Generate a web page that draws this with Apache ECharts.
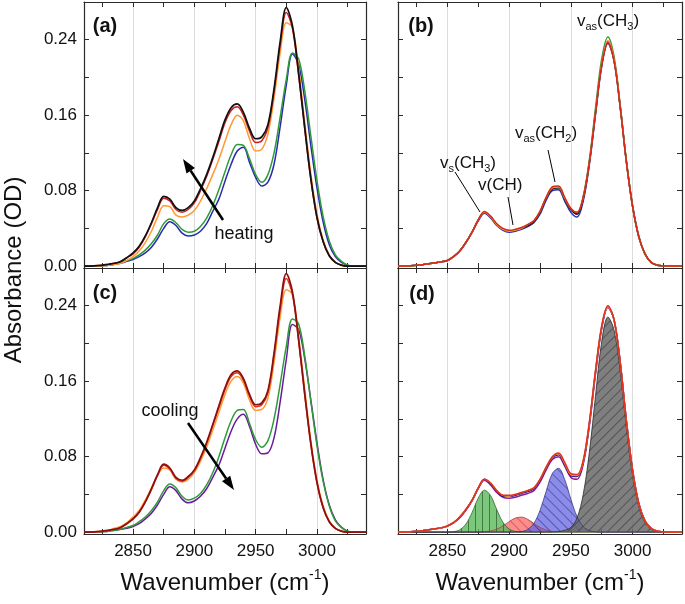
<!DOCTYPE html>
<html>
<head>
<meta charset="utf-8">
<title>CH stretching spectra</title>
<script src="https://cdn.jsdelivr.net/npm/echarts@6/dist/echarts.min.js"></script>
<style>html,body{margin:0;padding:0;background:#fff;}</style>
</head>
<body>
<div id="main" style="width:685px;height:604px;"></div>
<script>
// wavenumber grid (cm-1)
var wn = [2810,2815,2820,2825,2830,2835,2840,2845,2850,2855,2860,2865,2870,2875,2880,2885,2890,2895,2900,2905,2910,2915,2920,2925,2930,2935,2940,2945,2950,2955,2960,2965,2970,2975,2980,2985,2990,2995,3000,3005,3010,3015,3020,3025,3030,3035,3040];

// (a) heating
var aBlack  = [0,0,0.0005,0.001,0.002,0.003,0.005,0.009,0.014,0.021,0.032,0.046,0.062,0.074,0.071,0.062,0.059,0.062,0.069,0.082,0.097,0.115,0.135,0.155,0.168,0.172,0.163,0.146,0.135,0.137,0.150,0.188,0.238,0.274,0.255,0.205,0.147,0.093,0.052,0.026,0.011,0.004,0.001,0,0,0,0];
var aRed    = [0,0,0.0005,0.001,0.002,0.003,0.005,0.009,0.013,0.020,0.031,0.045,0.060,0.072,0.069,0.060,0.057,0.060,0.067,0.080,0.095,0.113,0.132,0.152,0.165,0.169,0.160,0.143,0.131,0.133,0.147,0.185,0.234,0.269,0.252,0.203,0.146,0.092,0.051,0.026,0.011,0.004,0.001,0,0,0,0];
var aOrange = [0,0,0,0.0005,0.001,0.002,0.003,0.006,0.010,0.016,0.025,0.037,0.052,0.064,0.063,0.054,0.052,0.054,0.059,0.069,0.082,0.097,0.113,0.132,0.150,0.160,0.154,0.135,0.122,0.124,0.140,0.178,0.226,0.258,0.253,0.210,0.153,0.098,0.055,0.028,0.012,0.004,0.001,0,0,0,0];
var aGreen  = [0,0,0,0.0005,0.001,0.002,0.004,0.006,0.008,0.012,0.017,0.024,0.033,0.045,0.050,0.046,0.039,0.036,0.037,0.042,0.051,0.064,0.081,0.100,0.118,0.129,0.128,0.114,0.097,0.089,0.097,0.120,0.158,0.198,0.226,0.220,0.186,0.138,0.091,0.053,0.027,0.012,0.005,0.001,0,0,0];
var aBlue   = [0,0,0,0.0005,0.001,0.002,0.003,0.005,0.007,0.010,0.014,0.020,0.029,0.040,0.047,0.043,0.035,0.032,0.033,0.037,0.045,0.058,0.071,0.090,0.108,0.122,0.126,0.110,0.094,0.085,0.089,0.108,0.148,0.192,0.225,0.214,0.177,0.128,0.083,0.047,0.023,0.010,0.004,0.001,0,0,0];

// (b) overlapping spectra
var bBlack  = [0,0,0.0003,0.0008,0.0015,0.0025,0.0035,0.0045,0.006,0.010,0.016,0.025,0.036,0.049,0.057,0.052,0.044,0.039,0.037,0.038,0.040,0.043,0.047,0.057,0.072,0.082,0.083,0.071,0.060,0.055,0.072,0.110,0.163,0.214,0.238,0.218,0.168,0.110,0.063,0.031,0.013,0.004,0.001,0.0003,0,0,0];
var bBlue   = [0,0,0.0003,0.0008,0.0015,0.0025,0.0035,0.0045,0.006,0.010,0.016,0.025,0.036,0.048,0.056,0.051,0.043,0.038,0.036,0.037,0.039,0.042,0.046,0.055,0.070,0.080,0.081,0.069,0.057,0.052,0.069,0.108,0.161,0.212,0.236,0.218,0.169,0.111,0.064,0.032,0.013,0.004,0.001,0.0003,0,0,0];
var bGreen  = [0,0,0.0003,0.0008,0.0015,0.0025,0.0035,0.0045,0.006,0.010,0.016,0.025,0.036,0.049,0.057,0.052,0.044,0.039,0.037,0.038,0.040,0.043,0.047,0.057,0.072,0.082,0.083,0.071,0.060,0.056,0.074,0.113,0.168,0.220,0.243,0.222,0.170,0.111,0.063,0.031,0.013,0.004,0.001,0.0003,0,0,0];
var bOrange = [0,0,0.0003,0.0008,0.0015,0.0025,0.0035,0.0045,0.006,0.010,0.016,0.025,0.036,0.049,0.057,0.052,0.044,0.039,0.037,0.038,0.040,0.044,0.048,0.058,0.073,0.083,0.084,0.072,0.061,0.057,0.073,0.111,0.164,0.215,0.239,0.219,0.169,0.110,0.063,0.031,0.013,0.004,0.001,0.0003,0,0,0];
var bRed    = [0,0,0.0003,0.0008,0.0015,0.0025,0.0035,0.0045,0.006,0.010,0.016,0.025,0.036,0.049,0.058,0.053,0.045,0.040,0.038,0.039,0.041,0.044,0.048,0.058,0.073,0.084,0.085,0.073,0.061,0.057,0.073,0.110,0.163,0.213,0.237,0.217,0.168,0.110,0.063,0.031,0.013,0.004,0.001,0.0003,0,0,0];

// (c) cooling
var cMaroon = [0,0,0.0005,0.001,0.002,0.003,0.005,0.009,0.014,0.021,0.032,0.046,0.061,0.072,0.068,0.058,0.055,0.059,0.066,0.079,0.095,0.114,0.134,0.153,0.167,0.171,0.163,0.146,0.135,0.137,0.150,0.190,0.240,0.274,0.255,0.205,0.147,0.094,0.053,0.026,0.011,0.004,0.001,0,0,0,0];
var cRed    = [0,0,0.0005,0.001,0.002,0.003,0.005,0.009,0.014,0.021,0.032,0.045,0.060,0.071,0.067,0.057,0.054,0.058,0.065,0.078,0.094,0.113,0.132,0.151,0.165,0.169,0.161,0.144,0.133,0.135,0.148,0.187,0.236,0.269,0.252,0.203,0.146,0.093,0.052,0.026,0.011,0.004,0.001,0,0,0,0];
var cOrange = [0,0,0.0005,0.001,0.002,0.004,0.006,0.010,0.016,0.023,0.034,0.047,0.060,0.068,0.066,0.056,0.053,0.056,0.063,0.075,0.090,0.108,0.127,0.146,0.160,0.165,0.158,0.140,0.129,0.130,0.142,0.180,0.228,0.257,0.252,0.208,0.152,0.097,0.055,0.028,0.012,0.004,0.001,0,0,0,0];
var cGreen  = [0,0,0,0.0005,0.001,0.002,0.003,0.005,0.007,0.011,0.016,0.023,0.032,0.044,0.051,0.047,0.038,0.034,0.036,0.041,0.050,0.063,0.080,0.100,0.118,0.129,0.130,0.115,0.098,0.090,0.097,0.120,0.157,0.197,0.226,0.221,0.187,0.139,0.092,0.054,0.028,0.012,0.005,0.001,0,0,0];
var cPurple = [0,0,0,0.0005,0.001,0.002,0.003,0.004,0.006,0.009,0.014,0.020,0.029,0.040,0.048,0.044,0.035,0.031,0.033,0.038,0.046,0.058,0.071,0.089,0.107,0.120,0.125,0.112,0.093,0.083,0.084,0.100,0.138,0.183,0.220,0.215,0.184,0.140,0.095,0.056,0.029,0.013,0.005,0.001,0,0,0];

// (d) spectra and fitted bands
var dRed    = [0,0,0.0003,0.0008,0.0015,0.0025,0.0035,0.0045,0.0065,0.010,0.016,0.024,0.034,0.047,0.056,0.052,0.044,0.039,0.039,0.040,0.042,0.044,0.047,0.056,0.069,0.080,0.084,0.074,0.062,0.061,0.076,0.117,0.172,0.219,0.240,0.225,0.179,0.117,0.065,0.030,0.012,0.004,0.001,0.0003,0,0,0];
var dOrange = [0,0,0.0003,0.0008,0.0015,0.0025,0.0035,0.0045,0.0065,0.010,0.016,0.024,0.034,0.047,0.056,0.052,0.044,0.039,0.038,0.040,0.042,0.044,0.047,0.056,0.069,0.080,0.083,0.073,0.061,0.060,0.075,0.116,0.171,0.218,0.239,0.225,0.179,0.117,0.065,0.030,0.012,0.004,0.001,0.0003,0,0,0];
var dNavy   = [0,0,0.0003,0.0008,0.0015,0.0025,0.0035,0.0045,0.0065,0.010,0.016,0.024,0.034,0.047,0.056,0.051,0.043,0.038,0.038,0.039,0.041,0.043,0.046,0.055,0.068,0.079,0.082,0.072,0.060,0.059,0.074,0.115,0.170,0.217,0.239,0.225,0.179,0.117,0.065,0.030,0.012,0.004,0.001,0.0003,0,0,0];
var dPurple = [0,0,0.0003,0.0008,0.0015,0.0025,0.0035,0.0045,0.0063,0.010,0.015,0.023,0.033,0.046,0.055,0.050,0.042,0.037,0.036,0.037,0.039,0.041,0.044,0.053,0.066,0.077,0.080,0.070,0.058,0.056,0.072,0.113,0.168,0.216,0.238,0.225,0.180,0.118,0.066,0.031,0.012,0.004,0.001,0.0003,0,0,0];
var fitGreen = [0,0,0,0,0,0,0,0,0.0001,0.0005,0.0024,0.0085,0.0208,0.0361,0.0445,0.0387,0.0238,0.0104,0.0032,0.0007,0.0001,0,0,0,0,0,0,0,0,0,0,0,0,0,0,0,0,0,0,0,0,0,0,0,0,0,0];
var fitRed   = [0,0,0,0,0,0,0,0,0,0,0,0,0,0,0.0004,0.0012,0.0031,0.0066,0.0111,0.0149,0.0159,0.0136,0.0092,0.005,0.0022,0.0007,0.0002,0,0,0,0,0,0,0,0,0,0,0,0,0,0,0,0,0,0,0,0];
var fitBlue  = [0,0,0,0,0,0,0,0,0,0,0,0,0,0,0,0,0,0,0,0.0001,0.0006,0.0028,0.0092,0.023,0.0434,0.0622,0.0676,0.0557,0.0348,0.0165,0.0059,0.0016,0.0003,0,0,0,0,0,0,0,0,0,0,0,0,0,0];
var fitGrey  = [0,0,0,0,0,0,0,0,0,0,0,0,0,0,0,0,0,0,0,0,0,0,0,0,0,0,0.0005,0.0019,0.005,0.015,0.040,0.085,0.145,0.202,0.228,0.214,0.170,0.110,0.060,0.027,0.010,0.003,0.001,0,0,0,0];

// axis ticks / labels
var xTicks = [2825,2850,2875,2900,2925,2950,2975,3000,3025];
var xLabels = [2850,2900,2950,3000];
var yTicks = [0,0.04,0.08,0.12,0.16,0.20,0.24];
var yLabels = [0,0.08,0.16,0.24];

var FONT = 'Liberation Sans, Arial, sans-serif';
var AX = '#2a2a2a';

var grids = [
  {left:84, top:2, width:282, height:266, outerBoundsMode:'none'},
  {left:398, top:2, width:284, height:266, outerBoundsMode:'none'},
  {left:84, top:268, width:282, height:266, outerBoundsMode:'none'},
  {left:398, top:268, width:284, height:266, outerBoundsMode:'none'}
];

var xAxes = [], yAxes = [];
grids.forEach(function (g, i) {
  var frame = {show:true, onZero:false, lineStyle:{color:AX, width:1.2}};
  var tick = {show:true, inside:true, length:5, customValues:xTicks, lineStyle:{color:AX}};
  xAxes.push({type:'value', gridIndex:i, position:'bottom', min:2810, max:3040,
    axisLine:frame, axisTick:tick,
    axisLabel:{show:i >= 2, customValues:xLabels, fontSize:17, color:'#111', fontFamily:FONT, margin:9,
      formatter:function (v) { return String(v); }},
    splitLine:{show:false}});
  xAxes.push({type:'value', gridIndex:i, position:'top', min:2810, max:3040,
    axisLine:frame, axisTick:tick, axisLabel:{show:false}, splitLine:{show:false}});
  xAxes.push({type:'value', gridIndex:i, position:'bottom', min:2810, max:3040,
    axisLine:{show:false}, axisTick:{show:false, customValues:xLabels}, axisLabel:{show:false},
    splitLine:{show:true, lineStyle:{color:'#dcdcdc', width:1}}, z:0});
  var ytick = {show:true, inside:true, length:5, customValues:yTicks, lineStyle:{color:AX}};
  yAxes.push({type:'value', gridIndex:i, position:'left', min:-0.002, max:0.28,
    axisLine:frame, axisTick:ytick,
    axisLabel:{show:i % 2 === 0, customValues:yLabels, fontSize:17, color:'#111', fontFamily:FONT, margin:7,
      formatter:function (v) { return v.toFixed(2); }},
    splitLine:{show:false}});
  yAxes.push({type:'value', gridIndex:i, position:'right', min:-0.002, max:0.28,
    axisLine:frame, axisTick:ytick, axisLabel:{show:false}, splitLine:{show:false}});
});

function pts(arr) { return wn.map(function (w, k) { return [w, arr[k]]; }); }
function curve(p, arr, color, width) {
  return {type:'line', xAxisIndex:p * 3, yAxisIndex:p * 2, data:pts(arr), symbol:'none', showSymbol:false,
    smooth:0.35, silent:true, z:3, lineStyle:{color:color, width:width || 1.5}};
}
function band(p, arr, fill, edge, decal) {
  return {type:'line', xAxisIndex:p * 3, yAxisIndex:p * 2, data:pts(arr), symbol:'none', showSymbol:false,
    smooth:0.35, silent:true, z:2, lineStyle:{color:edge, width:0.8, decal:decal},
    itemStyle:{color:fill, decal:decal}, areaStyle:{color:fill, opacity:1}};
}
function hatch(rot, col) {
  return {symbol:'rect', symbolSize:1, dashArrayX:[1, 0], dashArrayY:[1, 6], rotation:rot, color:col};
}

var series = [
  curve(0, aBlue, '#2a2ab0'), curve(0, aGreen, '#2f9a3a'), curve(0, aOrange, '#ff9933'),
  curve(0, aRed, '#cc1f1f'), curve(0, aBlack, '#111111', 1.7),
  curve(1, bBlue, '#2a2ab0'), curve(1, bGreen, '#2f9a3a'), curve(1, bBlack, '#111111'),
  curve(1, bOrange, '#ff9933'), curve(1, bRed, '#d6281e'),
  curve(2, cPurple, '#6a1b9a'), curve(2, cGreen, '#2f9a3a'), curve(2, cOrange, '#ff9933'),
  curve(2, cRed, '#e0301e'), curve(2, cMaroon, '#8b1010', 1.7),
  band(3, fitRed, 'rgba(255,100,100,0.75)', '#a04040', hatch(Math.PI / 4, 'rgba(90,30,30,0.35)')),
  band(3, fitGreen, 'rgba(90,185,90,0.8)', '#356b35', hatch(Math.PI / 2, 'rgba(20,60,20,0.55)')),
  band(3, fitBlue, 'rgba(100,100,225,0.75)', '#3a3a80', hatch(Math.PI / 4, 'rgba(30,30,90,0.45)')),
  band(3, fitGrey, 'rgba(105,105,105,0.85)', '#2a2a2a', hatch(-Math.PI / 4, 'rgba(40,40,40,0.5)')),
  curve(3, dPurple, '#8e1aa0'), curve(3, dNavy, '#1a1a8c'), curve(3, dOrange, '#ff9933'), curve(3, dRed, '#e0301e')
];

// annotations
var rt = {n:{fontSize:17, lineHeight:22, fontFamily:FONT, fill:'#111'},
          s:{fontSize:11, lineHeight:8, verticalAlign:'bottom', fontFamily:FONT, fill:'#111'}};
function note(x, y, text) {
  return {type:'text', x:x, y:y, z:10, style:{text:text, rich:rt, fontFamily:FONT, fill:'#111', verticalAlign:'top'}};
}
function label(x, y, text, size, bold) {
  return {type:'text', x:x, y:y, z:10, style:{text:text, fontSize:size, fontWeight:bold ? 'bold' : 'normal',
    fontFamily:FONT, fill:'#111', align:'center', verticalAlign:'middle'}};
}
function seg(x1, y1, x2, y2, w) {
  return {type:'line', z:10, shape:{x1:x1, y1:y1, x2:x2, y2:y2}, style:{stroke:'#000', lineWidth:w}};
}
function head(pts) {
  return {type:'polygon', z:10, shape:{points:pts}, style:{fill:'#000'}};
}
var xt = {n:{fontSize:24, lineHeight:30, fontFamily:FONT, fill:'#111'},
          u:{fontSize:14, lineHeight:10, verticalAlign:'top', fontFamily:FONT, fill:'#111'}};

var graphics = [
  label(105, 26, '(a)', 20, true), label(421, 26, '(b)', 20, true),
  label(105, 293, '(c)', 20, true), label(422, 294, '(d)', 20, true),
  label(244, 234, 'heating', 18), label(170, 411, 'cooling', 18),
  seg(223, 220, 190.7, 170.7, 2.5), head([[183, 159], [194.9, 168.0], [186.5, 173.4]]),
  seg(188, 423, 226.1, 478.5, 2.5), head([[234, 490], [230.2, 475.7], [222.0, 481.3]]),
  note(577, 10, '{n|v}{s|as}{n|(CH}{s|3}{n|)}'),
  note(515, 122, '{n|v}{s|as}{n|(CH}{s|2}{n|)}'),
  note(440, 152, '{n|v}{s|s}{n|(CH}{s|3}{n|)}'),
  note(478, 174, '{n|v(CH)}'),
  seg(548, 150, 555, 182, 1), seg(455, 172, 480, 212, 1), seg(508, 197, 513, 225, 1),
  {type:'text', x:14, y:270, rotation:Math.PI / 2, z:10,
    style:{text:'Absorbance (OD)', fontSize:24, fontFamily:FONT, fill:'#111', align:'center', verticalAlign:'middle'}},
  {type:'text', x:225, y:583, z:10, style:{text:'{n|Wavenumber (cm}{u|-1}{n|)}', rich:xt, align:'center', verticalAlign:'middle'}},
  {type:'text', x:540, y:583, z:10, style:{text:'{n|Wavenumber (cm}{u|-1}{n|)}', rich:xt, align:'center', verticalAlign:'middle'}}
];

var chart = echarts.init(document.getElementById('main'), null, {renderer:'canvas'});
chart.setOption({
  animation:false,
  backgroundColor:'#fff',
  grid:grids,
  xAxis:xAxes,
  yAxis:yAxes,
  series:series,
  graphic:graphics
});
</script>
</body>
</html>
